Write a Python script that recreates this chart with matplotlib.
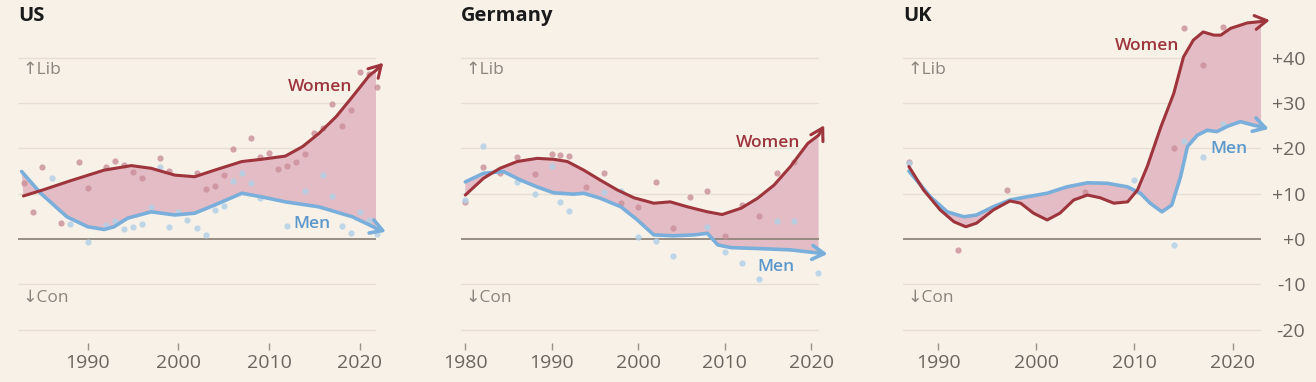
import numpy as np
import matplotlib.pyplot as plt

# ---- data ----
us_w_x = [1982.9, 1985, 1988, 1991.8, 1994.8, 1997, 1999.6, 2001.8, 2004, 2007, 2009.2, 2011.8, 2013.7, 2015.5, 2017.4, 2019.2, 2021.1, 2021.8]
us_w_y = [9.5, 10.8, 12.8, 15.2, 16.2, 15.6, 14.1, 13.75, 15.2, 17.1, 17.6, 18.3, 20.4, 23.3, 27.0, 31.4, 36.2, 37.2]
us_w_tip = (2022.6, 38.9)
us_m_x = [1982.7, 1984.8, 1987.7, 1990, 1991.8, 1992.9, 1994.4, 1997, 1999.6, 2001.8, 2004, 2007, 2009.2, 2011.8, 2015.5, 2019.2, 2021.8]
us_m_y = [14.9, 10.1, 4.9, 2.7, 2.1, 2.7, 4.6, 6.0, 5.3, 5.7, 7.5, 10.1, 9.3, 8.2, 7.1, 4.9, 2.4]
us_m_tip = (2022.9, 1.6)
us_wd_x = [1983, 1984, 1985, 1987, 1989, 1990, 1992, 1993, 1994, 1995, 1996, 1998, 1999, 2002, 2003, 2004, 2005,
           2006, 2008, 2009, 2010, 2011, 2012, 2013, 2014, 2015, 2016, 2017, 2018, 2019, 2020, 2021, 2021.9]
us_wd_y = [12.3, 6.0, 16.0, 3.5, 16.9, 11.3, 16.0, 17.3, 16.3, 14.7, 13.4, 17.8, 14.9, 14.5, 11.0, 11.7, 14.1,
           19.8, 22.2, 18.2, 19.0, 15.4, 16.1, 16.9, 18.7, 23.5, 24.4, 29.7, 24.9, 28.5, 36.9, 36.5, 33.5]
us_md_x = [1986, 1988, 1990, 1992, 1993, 1994, 1995, 1996, 1997, 1998, 1999, 2000, 2001, 2002, 2003,
           2004, 2005, 2006, 2007, 2008, 2009, 2012, 2014, 2016, 2017, 2018, 2019, 2020, 2021, 2021.9]
us_md_y = [13.5, 3.3, -0.6, 3.1, 4.0, 2.1, 2.7, 3.3, 7.0, 16.0, 2.7, 6.0, 4.2, 2.4, 0.9,
           6.5, 7.3, 12.8, 14.5, 12.3, 9.0, 2.9, 10.7, 14.1, 9.5, 2.9, 1.4, 5.9, 4.2, 1.2]

de_w_x = [1980, 1982.1, 1984, 1986, 1988.3, 1990.2, 1991.8, 1993.7, 1995.6, 1997.6, 1999.5, 2001.8, 2003.7,
          2005.7, 2008, 2009.7, 2011.9, 2013.8, 2015.7, 2017.6, 2019.6, 2020.85]
de_w_y = [9.7, 13.4, 15.6, 17.1, 17.8, 17.6, 17.1, 15.2, 13.0, 10.8, 9.1, 7.9, 8.2,
          7.1, 6.0, 5.4, 6.8, 9.0, 11.9, 16.0, 21.1, 22.9]
de_w_tip = (2021.5, 25.1)
de_m_x = [1980, 1982.1, 1984.4, 1986.4, 1988.3, 1990.2, 1992.5, 1993.7, 1995.6, 1998, 1999.9, 2001.8,
          2004.1, 2006.4, 2008, 2009.2, 2010.7, 2013.8, 2017.6, 2020.85]
de_m_y = [12.6, 14.5, 14.9, 13.0, 11.5, 10.2, 9.9, 10.1, 9.0, 7.1, 4.2, 0.9,
          0.7, 0.9, 1.25, -1.3, -1.9, -2.1, -2.4, -3.1]
de_m_tip = (2021.9, -3.3)
de_wd_x = [1980, 1982, 1984, 1986, 1988, 1990, 1991, 1992, 1994, 1996, 1998, 2000, 2002, 2004, 2006, 2008,
           2010, 2012, 2014, 2016, 2018]
de_wd_y = [8.2, 15.8, 14.5, 18.0, 14.3, 18.7, 18.5, 18.4, 11.5, 14.6, 8.0, 7.1, 12.5, 2.5, 9.2, 10.7,
           0.7, 7.4, 5.1, 14.5, 17.1]
de_md_x = [1980, 1982, 1986, 1988, 1990, 1991, 1992, 1996, 1998, 2000, 2002, 2004, 2008, 2010, 2012,
           2014, 2016, 2018, 2020.8]
de_md_y = [8.6, 20.6, 12.6, 9.9, 16.2, 8.2, 6.2, 10.3, 10.7, 0.4, -0.4, -3.75, 2.7, -2.8, -5.4,
           -8.8, 4.0, 4.0, -7.4]

uk_w_x = [1987, 1988.5, 1990.2, 1991.6, 1992.8, 1993.9, 1995.6, 1997.3, 1998.4, 1999.7, 2001.1, 2002.4,
          2003.8, 2005.2, 2006.5, 2007.9, 2009.3, 2010.3, 2011.3, 2012.7, 2014, 2015, 2016, 2017,
          2018.1, 2018.8, 2019.8, 2021.5, 2022.9]
uk_w_y = [16.0, 10.8, 6.4, 3.8, 2.7, 3.5, 6.4, 8.4, 7.9, 5.7, 4.2, 5.7,
          8.6, 9.7, 9.1, 7.9, 8.2, 10.8, 16.0, 24.8, 32.1, 40.2, 43.9, 45.7,
          45.0, 45.0, 46.5, 47.7, 48.0]
uk_w_tip = (2023.8, 48.3)
uk_m_x = [1987, 1989.2, 1990.9, 1992.6, 1993.9, 1995.6, 1997.3, 1999, 2001.1, 2003.1, 2005.2, 2007.2,
          2009.3, 2010.6, 2011.6, 2012.8, 2013.8, 2014.7, 2015.4, 2016.4, 2017.4, 2018.4, 2019.5,
          2020.8, 2022.2, 2022.9]
uk_m_y = [15.0, 9.3, 6.0, 4.9, 5.3, 7.1, 8.6, 9.3, 10.1, 11.5, 12.4, 12.3,
          11.5, 10.1, 7.9, 6.0, 7.5, 13.75, 20.4, 22.9, 24.0, 23.7, 24.9,
          25.9, 25.1, 24.8]
uk_m_tip = (2023.7, 24.3)
uk_wd_x = [1987, 1992, 1997, 2005, 2014, 2015, 2017, 2019]
uk_wd_y = [17.1, -2.4, 10.8, 10.4, 20.1, 46.6, 38.5, 46.8]
uk_md_x = [1987, 2010, 2014, 2015, 2017, 2019]
uk_md_y = [16.7, 13.0, -1.3, 21.6, 18.2, 25.3]

titles = ['US', 'Germany', 'UK']
xlims = [(1982.3, 2021.8), (1979.5, 2020.9), (1986.4, 2022.9)]
xticks = [[1990, 2000, 2010, 2020], [1980, 1990, 2000, 2010, 2020], [1990, 2000, 2010, 2020]]
yticks = [-20, -10, 0, 10, 20, 30, 40]
ytick_labels = ['-20', '-10', '+0', '+10', '+20', '+30', '+40']
women_lbl = [(2015.6, 33.6), (2015.0, 21.2), (2011.3, 42.6)]
men_lbl = [(2014.7, 3.3), (2015.9, -6.2), (2019.6, 19.9)]

BG = '#f7f1e8'
RED = '#9e343c'
BLUE = '#79afda'
FILL = '#e4bcc5'
GRID = '#e7dfd4'
GREY = '#6b6560'

plt.rcParams['font.family'] = ['Open Sans', 'DejaVu Sans']

fig = plt.figure(figsize=(13.16, 3.82), dpi=100, facecolor=BG)
lefts = [18, 461, 903]
panels = [
    (us_w_x, us_w_y, us_w_tip, us_m_x, us_m_y, us_m_tip, us_wd_x, us_wd_y, us_md_x, us_md_y),
    (de_w_x, de_w_y, de_w_tip, de_m_x, de_m_y, de_m_tip, de_wd_x, de_wd_y, de_md_x, de_md_y),
    (uk_w_x, uk_w_y, uk_w_tip, uk_m_x, uk_m_y, uk_m_tip, uk_wd_x, uk_wd_y, uk_md_x, uk_md_y),
]

for i, p in enumerate(panels):
    wx, wy, wtip, mx, my, mtip, wdx, wdy, mdx, mdy = p
    ax = fig.add_axes([lefts[i] / 1316, 0.1016, 358 / 1316, 0.8657])
    ax.set_facecolor(BG)
    ax.set_xlim(*xlims[i])
    ax.set_ylim(-23, 50)
    for s in ax.spines.values():
        s.set_visible(False)

    for v in yticks:
        if v == 0:
            ax.axhline(0, color='#8e857c', lw=1.3, zorder=2)
        else:
            ax.axhline(v, color=GRID, lw=1.0, zorder=0)

    # gap fill
    ax.fill(list(wx) + list(mx)[::-1], list(wy) + list(my)[::-1], color=FILL, lw=0, zorder=1)

    ax.scatter(wdx, wdy, s=20, color='#c98e98', alpha=0.8, lw=0, zorder=3, clip_on=False)
    ax.scatter(mdx, mdy, s=20, color='#b3d1e6', alpha=0.85, lw=0, zorder=3, clip_on=False)

    ax.plot(mx, my, color=BLUE, lw=2.6, solid_capstyle='round', solid_joinstyle='round', zorder=4)
    ax.plot(wx, wy, color=RED, lw=2.2, solid_capstyle='round', solid_joinstyle='round', zorder=5)
    ax.annotate('', xy=mtip, xytext=(mx[-1], my[-1]), annotation_clip=False, zorder=4,
                arrowprops=dict(arrowstyle='->,head_length=0.85,head_width=0.5', color=BLUE, lw=2.6,
                                shrinkA=0, shrinkB=0))
    ax.annotate('', xy=wtip, xytext=(wx[-1], wy[-1]), annotation_clip=False, zorder=5,
                arrowprops=dict(arrowstyle='->,head_length=0.85,head_width=0.5', color=RED, lw=2.2,
                                shrinkA=0, shrinkB=0))

    ax.text(*women_lbl[i], 'Women', color=RED, fontsize=12.5, fontweight='semibold', ha='center', va='center', zorder=6)
    ax.text(*men_lbl[i], 'Men', color='#5d98cc', fontsize=12.5, fontweight='semibold', ha='center', va='center', zorder=6)

    ax.text(0.012, 37.3, '↑Lib', transform=ax.get_yaxis_transform(), color='#8a847e', fontsize=12.5,
            ha='left', va='center')
    ax.text(0.012, -13, '↓Con', transform=ax.get_yaxis_transform(), color='#8a847e', fontsize=12.5,
            ha='left', va='center')

    ax.set_xticks(xticks[i])
    ax.set_xticklabels([str(t) for t in xticks[i]])
    ax.tick_params(axis='x', length=5, width=1, color='#9a928a', labelcolor=GREY, labelsize=14, pad=3)
    if i == 2:
        ax.yaxis.tick_right()
        ax.set_yticks(yticks)
        ax.set_yticklabels(ytick_labels)
        ax.tick_params(axis='y', length=0, labelcolor=GREY, labelsize=14, pad=32)
        for lab in ax.get_yticklabels():
            lab.set_horizontalalignment('right')
    else:
        ax.set_yticks([])

    fig.text(lefts[i] / 1316, 1 - 16 / 382, titles[i], fontsize=14.5, fontweight='bold', color='#1a1a1a',
             ha='left', va='center')

fig.savefig('out.png', dpi=100, facecolor=BG)
